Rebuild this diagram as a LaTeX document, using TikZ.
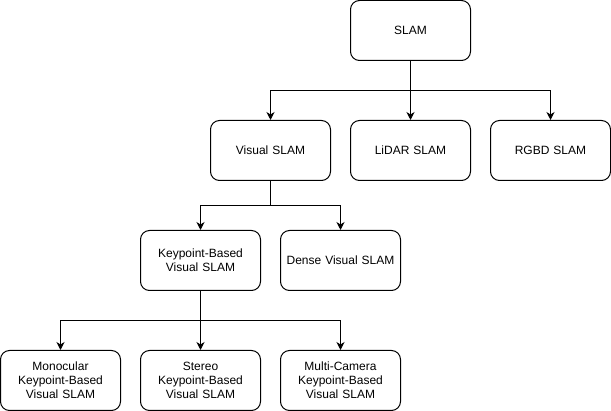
\documentclass[tikz,border=0pt]{standalone}
\usepackage{fontspec}
\setmainfont{Liberation Sans}
\usetikzlibrary{arrows.meta}
\begin{document}
\begin{tikzpicture}[x=1pt,y=-1pt,
  box/.style={draw=black,line width=1pt,rounded corners=9pt,fill=white,
    minimum width=120pt,minimum height=60pt,inner sep=2pt,
    text width=114pt,align=center,font=\fontsize{12}{14}\selectfont},
  arr/.style={draw=black,line width=1pt,-{Stealth[length=8pt,width=8pt,inset=2.5pt]}}]
\useasboundingbox (0,0) rectangle (611,411);
\node[box] (slam) at (410.5,30.5) {SLAM};
\node[box] (vis) at (270.5,150.5) {Visual SLAM};
\node[box] (lidar) at (410.5,150.5) {LiDAR SLAM};
\node[box] (rgbd) at (550.5,150.5) {RGBD SLAM};
\node[box] (kp) at (200.5,260.5) {Keypoint-Based\\Visual SLAM};
\node[box] (dense) at (340.5,260.5) {Dense Visual SLAM};
\node[box] (mono) at (60.5,380.5) {Monocular\\Keypoint-Based\\Visual SLAM};
\node[box] (stereo) at (200.5,380.5) {Stereo\\Keypoint-Based\\Visual SLAM};
\node[box] (multi) at (340.5,380.5) {Multi-Camera\\Keypoint-Based\\Visual SLAM};
\coordinate (b1) at (0,90.5);
\coordinate (b2) at (0,205.5);
\coordinate (b3) at (0,320.5);
\draw[arr] (slam.south) -- (slam.south |- b1) -| (vis.north);
\draw[arr] (slam.south) -- (lidar.north);
\draw[arr] (slam.south) -- (slam.south |- b1) -| (rgbd.north);
\draw[arr] (vis.south) -- (vis.south |- b2) -| (kp.north);
\draw[arr] (vis.south) -- (vis.south |- b2) -| (dense.north);
\draw[arr] (kp.south) -- (kp.south |- b3) -| (mono.north);
\draw[arr] (kp.south) -- (stereo.north);
\draw[arr] (kp.south) -- (kp.south |- b3) -| (multi.north);
\end{tikzpicture}
\end{document}
